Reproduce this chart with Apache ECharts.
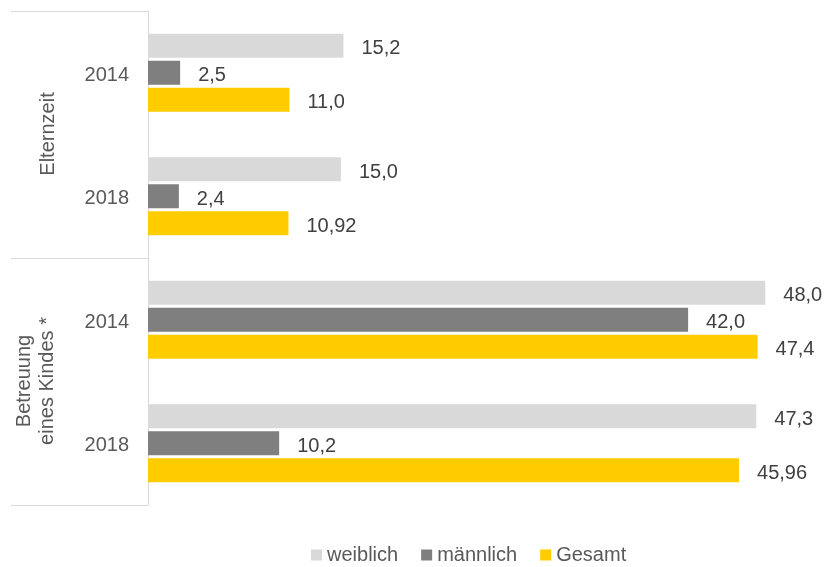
<!DOCTYPE html>
<html>
<head>
<meta charset="utf-8">
<script src="https://cdn.jsdelivr.net/npm/echarts@6/dist/echarts.min.js"></script>
<style>
  html, body { margin: 0; padding: 0; background: #fff; }
  #chart { width: 824px; height: 567px; }
</style>
</head>
<body>
<div id="chart"></div>
<script>
// categories (top to bottom)
var categories = ['Elternzeit 2014', 'Elternzeit 2018', 'Betreuung 2014', 'Betreuung 2018'];
var years = ['2014', '2018', '2014', '2018'];
var groups = ['Elternzeit', 'Betreuung\neines Kindes *'];

var weiblich = [15.2, 15.0, 48.0, 47.3];
var maennlich = [2.5, 2.4, 42.0, 10.2];
var gesamt = [11.0, 10.92, 47.4, 45.96];

var seriesNames = ['weiblich', 'männlich', 'Gesamt'];
var colors = ['#d9d9d9', '#7f7f7f', '#ffcc00'];

var fontFamily = '"Liberation Sans", Arial, sans-serif';

function fmt(v) {
  var d = Math.round(v * 10) === v * 10 ? 1 : 2;
  return v.toFixed(d).replace('.', ',');
}

var myChart = echarts.init(document.getElementById('chart'));

function makeSeries(name, data, color) {
  return {
    name: name,
    type: 'bar',
    data: data,
    barWidth: 24,
    barGap: '12%',
    itemStyle: { color: color },
    label: {
      show: true,
      position: 'right',
      distance: 18,
      offset: [0, 3],
      color: '#404040',
      fontSize: 20,
      fontFamily: fontFamily,
      formatter: function (p) { return fmt(p.value); }
    },
    emphasis: { disabled: true }
  };
}

myChart.setOption({
  animation: false,
  textStyle: { fontFamily: fontFamily },
  grid: { left: 148, right: 33, top: 11, bottom: 62 },
  xAxis: {
    type: 'value',
    min: 0,
    max: 50,
    show: false
  },
  yAxis: {
    type: 'category',
    inverse: true,
    data: categories,
    axisLine: { show: true, lineStyle: { color: '#d9d9d9', width: 1 } },
    axisTick: {
      show: true,
      interval: 1,
      length: 137,
      lineStyle: { color: '#d9d9d9', width: 1 }
    },
    axisLabel: {
      margin: 19,
      formatter: function (v, i) { return '{y|' + years[i] + '}'; },
      rich: {
        y: {
          color: '#595959',
          fontSize: 20,
          fontFamily: fontFamily,
          padding: [5, 0, 0, 0]
        }
      }
    }
  },
  legend: {
    bottom: 2,
    left: 311,
    padding: 0,
    icon: 'rect',
    itemWidth: 11,
    itemHeight: 11,
    itemGap: 23,
    textStyle: { color: '#595959', fontSize: 20, fontFamily: fontFamily },
    data: seriesNames
  },
  graphic: [
    {
      type: 'text',
      x: 48, y: 134,
      rotation: Math.PI / 2,
      style: {
        text: groups[0],
        fill: '#595959',
        font: '20px ' + fontFamily,
        textAlign: 'center',
        textVerticalAlign: 'middle'
      }
    },
    {
      type: 'text',
      x: 36, y: 381,
      rotation: Math.PI / 2,
      style: {
        text: groups[1],
        fill: '#595959',
        font: '20px ' + fontFamily,
        lineHeight: 23,
        textAlign: 'center',
        textVerticalAlign: 'middle'
      }
    }
  ],
  series: [
    makeSeries(seriesNames[0], weiblich, colors[0]),
    makeSeries(seriesNames[1], maennlich, colors[1]),
    makeSeries(seriesNames[2], gesamt, colors[2])
  ]
});
</script>
</body>
</html>
